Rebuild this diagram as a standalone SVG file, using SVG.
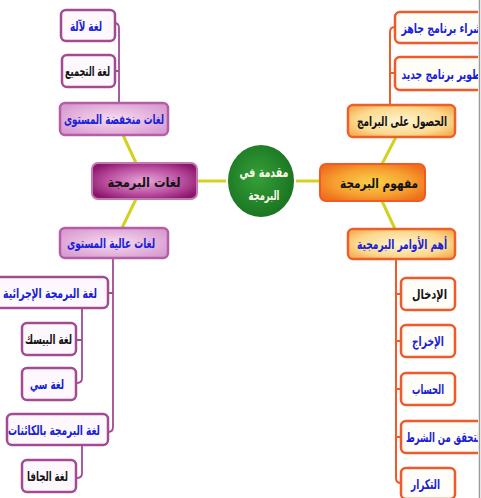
<svg xmlns="http://www.w3.org/2000/svg" width="481" height="498" viewBox="0 0 481 498">
<defs>
<radialGradient id="gPurpleDark" cx="50%" cy="50%" r="60%"><stop offset="0" stop-color="#e7a6d8"/><stop offset="0.6" stop-color="#bb4fa0"/><stop offset="1" stop-color="#8a1669"/></radialGradient>
<radialGradient id="gPurpleLight" cx="50%" cy="50%" r="60%"><stop offset="0" stop-color="#f6dcf0"/><stop offset="1" stop-color="#d99bd0"/></radialGradient>
<radialGradient id="gOrangeMain" cx="50%" cy="50%" r="60%"><stop offset="0" stop-color="#fbd24a"/><stop offset="0.6" stop-color="#f6a030"/><stop offset="1" stop-color="#ef6f1c"/></radialGradient>
<radialGradient id="gOrangeLight" cx="50%" cy="50%" r="60%"><stop offset="0" stop-color="#fff3cf"/><stop offset="0.7" stop-color="#fbd98e"/><stop offset="1" stop-color="#f6b25a"/></radialGradient>
<radialGradient id="gGreen" cx="45%" cy="45%" r="60%"><stop offset="0" stop-color="#35a038"/><stop offset="1" stop-color="#187020"/></radialGradient>
<clipPath id="clipView"><rect x="0" y="0" width="478" height="498"/></clipPath>
<style>
text{font-family:"DejaVu Sans","Noto Sans",sans-serif;font-weight:bold;font-size:13.5px;text-anchor:middle}
.blue{fill:#1a22d8}
.black{fill:#141414}
.white{fill:#fbfbe8}
.pchild{fill:#fdf8fd;stroke:#a24b93;stroke-width:2.5}
.ochild{fill:#fffdf8;stroke:#ef5a2a;stroke-width:2.5}
.plight{fill:url(#gPurpleLight);stroke:#b35ea8;stroke-width:2.5}
.olight{fill:url(#gOrangeLight);stroke:#ef5f2a;stroke-width:2.5}
.pmain{fill:url(#gPurpleDark);stroke:#c27ab5;stroke-width:2}
.omain{fill:url(#gOrangeMain);stroke:#f05a24;stroke-width:2}
.yel{stroke:#d2d21e;stroke-width:3;fill:none}
.pline{stroke:#a24b93;stroke-width:1.8;fill:none}
.oline{stroke:#ef5a2a;stroke-width:2;fill:none}
</style>
</defs>
<rect x="0" y="0" width="481" height="498" fill="#ffffff"/>
<g clip-path="url(#clipView)">
<g id="connectors">
<line class="yel" x1="197" y1="181" x2="228" y2="181"/>
<line class="yel" x1="294" y1="181" x2="320" y2="181"/>
<line class="yel" x1="123" y1="135" x2="136" y2="163"/>
<line class="yel" x1="136" y1="199" x2="122" y2="228"/>
<line class="yel" x1="396" y1="137" x2="382" y2="164"/>
<line class="yel" x1="382" y1="201" x2="395" y2="229"/>
<path class="pline" d="M119,103 V28 Q119,23 114,23 M119,71 H115"/>
<path class="pline" d="M113,258 V427 Q113,432 108,432 M113,293 H108"/>
<path class="pline" d="M82,308 V378 Q82,383 77,383 M82,340 H76"/>
<path class="pline" d="M82,445 V473 Q82,478 77,478"/>
<path class="oline" d="M390,105 V32 Q390,27 395,27 M390,73 H395"/>
<path class="oline" d="M396,259 V478 Q396,483 401,483 M396,294 H401 M396,341 H401 M396,389 H401 M396,437 H401"/>
</g>
<g id="center"><ellipse cx="261" cy="181" rx="34" ry="37" fill="url(#gGreen)" stroke="#ffffff" stroke-width="2"/><text class="white" x="264" y="177" font-size="15" textLength="49" lengthAdjust="spacingAndGlyphs">مقدمة في</text><text class="white" x="264" y="200" font-size="15" textLength="31" lengthAdjust="spacingAndGlyphs">البرمجة</text></g>
<g id="n-langs"><rect class="pmain" x="92" y="163" width="105" height="36" rx="6"/><text class="black" x="144" y="187" font-size="15.5" textLength="73" lengthAdjust="spacingAndGlyphs">لغات البرمجة</text></g>
<g id="n-concept"><rect class="omain" x="320" y="164" width="105" height="37" rx="6"/><text class="black" x="379" y="188" font-size="15" textLength="78" lengthAdjust="spacingAndGlyphs">مفهوم البرمجة</text></g>
<g id="n-low"><rect class="plight" x="60" y="103" width="108" height="32" rx="5"/><text class="blue" x="114" y="124" textLength="100" lengthAdjust="spacingAndGlyphs">لغات منخفضة المستوى</text></g>
<g id="n-high"><rect class="plight" x="60" y="228" width="108" height="30" rx="5"/><text class="blue" x="111" y="248" textLength="88" lengthAdjust="spacingAndGlyphs">لغات عالية المستوى</text></g>
<g id="n-get"><rect class="olight" x="348" y="105" width="107" height="32" rx="5"/><text class="black" x="402" y="126" textLength="90" lengthAdjust="spacingAndGlyphs">الحصول على البرامج</text></g>
<g id="n-cmds"><rect class="olight" x="348" y="229" width="107" height="30" rx="5"/><text class="blue" x="402" y="249" textLength="90" lengthAdjust="spacingAndGlyphs">أهم الأوامر البرمجية</text></g>
<g id="n-machine"><rect class="pchild" x="61" y="10" width="54" height="31" rx="5"/><text class="blue" x="86" y="31" textLength="32" lengthAdjust="spacingAndGlyphs">لغة لآلة</text></g>
<g id="n-asm"><rect class="pchild" x="62" y="55" width="53" height="32" rx="5"/><text class="black" x="87.5" y="76" textLength="45" lengthAdjust="spacingAndGlyphs">لغة التجميع</text></g>
<g id="n-proc"><rect class="pchild" x="-10" y="277" width="118" height="31" rx="5"/><text class="blue" x="50" y="298" textLength="94" lengthAdjust="spacingAndGlyphs">لغة البرمجة الإجرائية</text></g>
<g id="n-basic"><rect class="pchild" x="22" y="323" width="54" height="32" rx="5"/><text class="black" x="48.5" y="344" textLength="47" lengthAdjust="spacingAndGlyphs">لغة البيسك</text></g>
<g id="n-c"><rect class="pchild" x="22" y="368" width="54" height="32" rx="5"/><text class="blue" x="47" y="389" textLength="34" lengthAdjust="spacingAndGlyphs">لغة سي</text></g>
<g id="n-oop"><rect class="pchild" x="7" y="414" width="101" height="31" rx="5"/><text class="blue" x="54" y="435" textLength="92" lengthAdjust="spacingAndGlyphs">لغة البرمجة بالكائنات</text></g>
<g id="n-java"><rect class="pchild" x="22" y="460" width="54" height="32" rx="5"/><text class="black" x="47.5" y="481" textLength="41" lengthAdjust="spacingAndGlyphs">لغة الجافا</text></g>
<g id="n-buy"><rect class="ochild" x="395" y="12" width="100" height="31" rx="5"/><text class="blue" x="442" y="33" textLength="81" lengthAdjust="spacingAndGlyphs">شراء برنامج جاهز</text></g>
<g id="n-dev"><rect class="ochild" x="395" y="57" width="100" height="33" rx="5"/><text class="blue" x="443" y="79" textLength="83" lengthAdjust="spacingAndGlyphs">تطوير برنامج جديد</text></g>
<g id="n-input"><rect class="ochild" x="401" y="278" width="54" height="32" rx="5"/><text class="black" x="429.5" y="299" textLength="35" lengthAdjust="spacingAndGlyphs">الإدخال</text></g>
<g id="n-output"><rect class="ochild" x="401" y="325" width="54" height="32" rx="5"/><text class="blue" x="428" y="346" textLength="32" lengthAdjust="spacingAndGlyphs">الإخراج</text></g>
<g id="n-calc"><rect class="ochild" x="401" y="373" width="54" height="32" rx="5"/><text class="blue" x="428" y="394" textLength="32" lengthAdjust="spacingAndGlyphs">الحساب</text></g>
<g id="n-cond"><rect class="ochild" x="401" y="421" width="100" height="32" rx="5"/><text class="blue" x="444.5" y="442" textLength="77" lengthAdjust="spacingAndGlyphs">التحقق من الشرط</text></g>
<g id="n-loop"><rect class="ochild" x="401" y="468" width="54" height="31" rx="5"/><text class="blue" x="425.5" y="489" textLength="29" lengthAdjust="spacingAndGlyphs">التكرار</text></g>
</g>
<line x1="479.5" y1="0" x2="479.5" y2="498" stroke="#9a9a9a" stroke-width="1.5"/>
</svg>
